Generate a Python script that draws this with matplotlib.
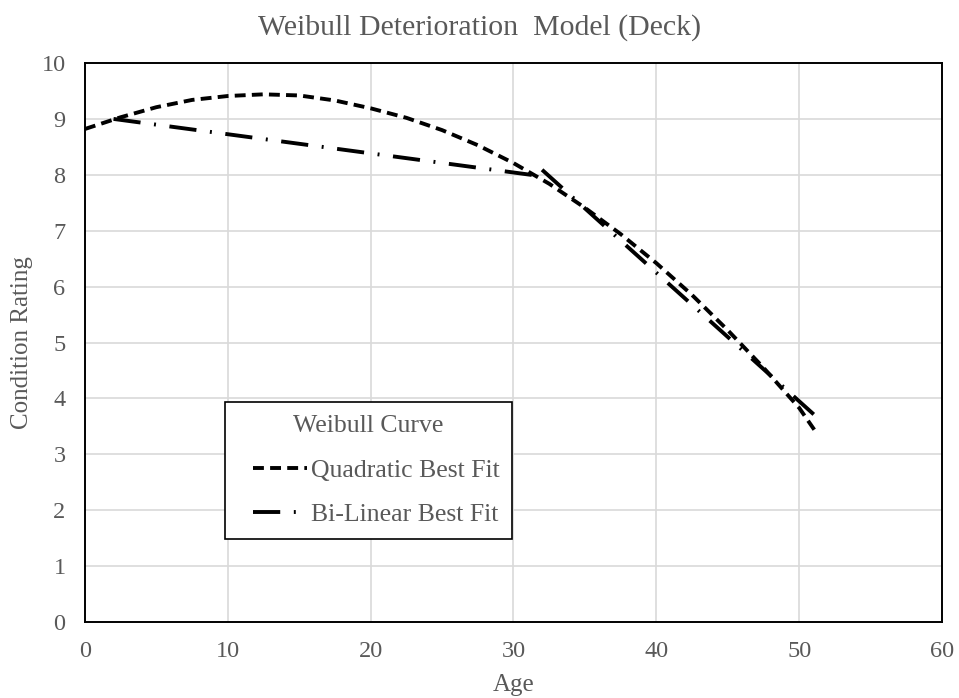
import matplotlib.pyplot as plt
from matplotlib.legend_handler import HandlerLine2D

plt.rcParams['font.family'] = ['Liberation Serif', 'DejaVu Serif']

# quadratic best fit curve
quad_age = [0, 2.5, 5, 7.5, 10, 12.5, 15, 17.5, 20, 22.5, 25, 27.5, 30, 32.5, 35, 37.5, 40, 42.5, 45, 47.5, 50, 51.3]
quad_cr = [8.82, 9.03, 9.21, 9.34, 9.41, 9.44, 9.42, 9.33, 9.19, 9.02, 8.80, 8.53, 8.21, 7.84, 7.41, 6.94, 6.42, 5.85, 5.22, 4.55, 3.83, 3.35]

# bi-linear best fit, two segments
bl1_age = [2, 31.8]
bl1_cr = [9.0, 7.98]
bl2_age = [32, 51.3]
bl2_cr = [8.09, 3.65]

grey = '#595959'


class PaddedLine(HandlerLine2D):
    # leave some blank room left of the legend line, like the Excel legend
    def create_artists(self, legend, orig_handle, xdescent, ydescent, width, height, fontsize, trans):
        shift = 11
        return super().create_artists(legend, orig_handle, xdescent - shift, ydescent,
                                      width - shift, height, fontsize, trans)


fig = plt.figure(figsize=(9.59, 6.98), dpi=100)
ax = fig.add_axes([0.0886, 0.1089, 0.8937, 0.8008])

ax.plot(quad_age, quad_cr, color='black', lw=2.8, ls=(0, (2.8, 1.6)),
        label='Quadratic Best Fit', zorder=3)
ax.plot(bl1_age, bl1_cr, color='black', lw=2.8, ls=(0, (7, 3.5, 0.5, 3.5)),
        label='Bi-Linear Best Fit', zorder=3)
ax.plot(bl2_age, bl2_cr, color='black', lw=2.8, ls=(0, (7, 3.5, 0.5, 3.5)), zorder=3)

ax.set_xlim(0, 60)
ax.set_ylim(0, 10)
ax.set_xticks(range(0, 61, 10))
ax.set_yticks(range(0, 11))
ax.grid(True, color='#d9d9d9', lw=1.2)
ax.set_axisbelow(True)
for s in ax.spines.values():
    s.set_color('black')
    s.set_linewidth(1.4)
ax.tick_params(length=0, labelsize=17.5, labelcolor=grey)
ax.tick_params(axis='y', pad=14)
ax.tick_params(axis='x', pad=14)

fig.text(0.5, 0.96, 'Weibull Deterioration  Model (Deck)', fontsize=21.5, color=grey,
         ha='center', va='center')
ax.set_xlabel('Age', fontsize=18, color=grey, labelpad=8)
ax.set_ylabel('Condition Rating', fontsize=18, color=grey, labelpad=6)

leg = ax.legend(title='Weibull Curve', loc='lower left', bbox_to_anchor=(0.163, 0.148),
                fontsize=18.5, title_fontsize=18.5, fancybox=False, edgecolor='black',
                framealpha=1, handlelength=2.7, handletextpad=0.15,
                borderpad=0.5, labelspacing=0.85, borderaxespad=0,
                handler_map={plt.Line2D: PaddedLine()})
leg.get_frame().set_linewidth(1.2)
leg.get_title().set_color(grey)
for t in leg.get_texts():
    t.set_color(grey)

fig.savefig('out.png', dpi=100)
